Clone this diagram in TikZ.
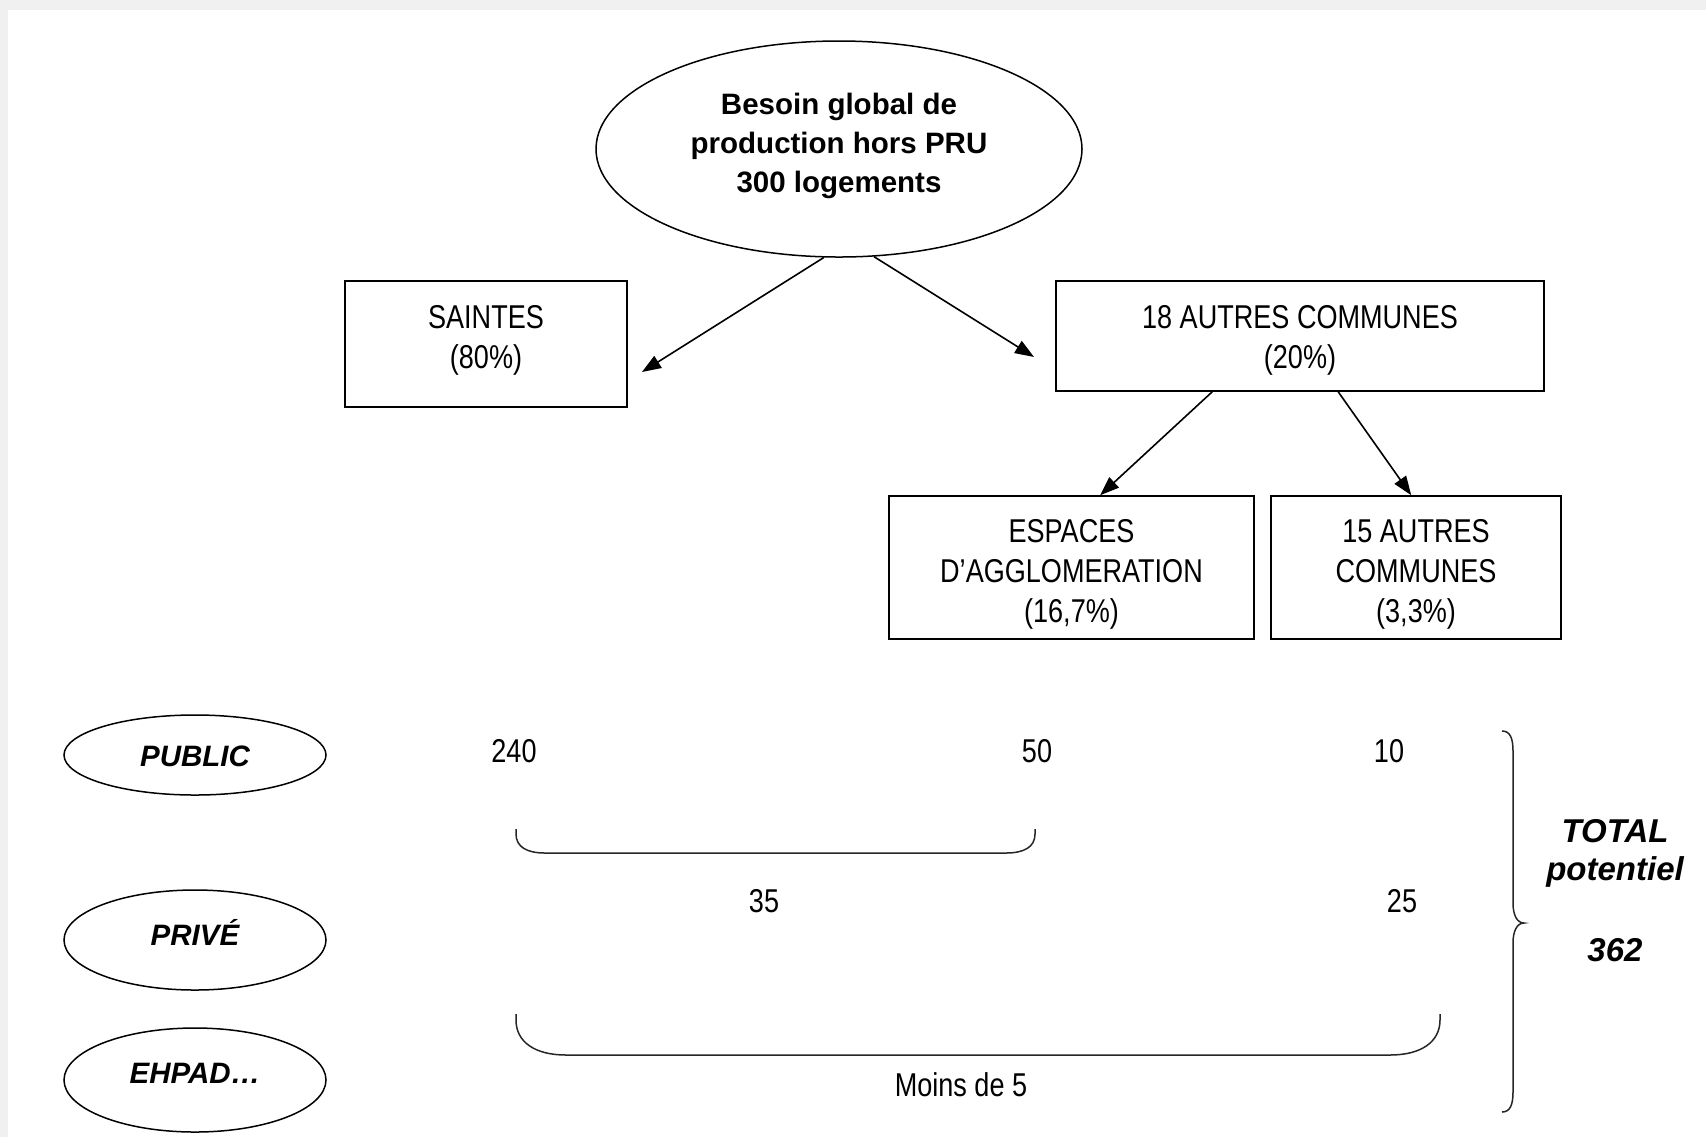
\documentclass[tikz,border=0pt]{standalone}
\usepackage{fontspec}
\setmainfont{Liberation Sans}
\newfontfamily\narrowfont[FakeStretch=0.82]{Liberation Sans}
\usetikzlibrary{shapes.geometric,arrows.meta,calc}

\begin{document}
\begin{tikzpicture}[x=0.5pt,y=-0.5pt,
  box/.style={draw,line width=0.8pt,inner sep=0pt},
  boxtext/.style={inner sep=0pt,align=center,
    font=\narrowfont\fontsize{16.5}{20}\selectfont},
  bigoval/.style={draw,ellipse,line width=0.75pt,inner sep=0pt,
    minimum width=243pt,minimum height=108pt},
  bigtext/.style={inner sep=0pt,align=center,
    font=\bfseries\fontsize{14.75}{19.5}\selectfont},
  sideoval/.style={draw,ellipse,line width=0.75pt,inner sep=0pt,minimum width=131pt},
  sidetext/.style={inner sep=0pt,font=\bfseries\itshape\fontsize{14.75}{18}\selectfont},
  num/.style={inner sep=0pt,font=\narrowfont\fontsize{16.5}{20}\selectfont},
  total/.style={inner sep=0pt,align=center,font=\bfseries\itshape\fontsize{16.5}{19}\selectfont},
  conn/.style={line width=0.8pt,-{Triangle[length=9.5pt,width=7pt]}},
  curl/.style={line width=0.75pt,black!85}]

% page frame: light grey strip along the top and left edges
\useasboundingbox (0,0) rectangle (1706,1137);
\fill[black!6] (0,0) rectangle (1706,1137);
\fill[white] (8,10) rectangle (1706,1137);

% tree of needs
\node[bigoval,label={[bigtext,yshift=1.3pt]center:Besoin global de\\production hors PRU\\300 logements}] (top) at (839,149) {};
\node[box,minimum width=141pt,minimum height=63pt,
  label={[boxtext,yshift=1.8pt]center:SAINTES\\(80\%)}] (saintes) at (486,344) {};
\node[box,minimum width=244pt,minimum height=55pt,
  label={[boxtext,yshift=-2.2pt]center:18 AUTRES COMMUNES\\(20\%)}] (autres) at (1300,336) {};
\node[box,minimum width=182.5pt,minimum height=71.5pt,
  label={[boxtext,yshift=-3.6pt]center:ESPACES\\D’AGGLOMERATION\\(16,7\%)}] (esp) at (1071.5,567.5) {};
\node[box,minimum width=145pt,minimum height=71.5pt,
  label={[boxtext,yshift=-3.6pt]center:15 AUTRES\\COMMUNES\\(3,3\%)}] (quinze) at (1416,567.5) {};

\coordinate (toSaintes) at (642,372);
\coordinate (toAutres) at (1034,357);
\coordinate (fromAutresL) at ($(autres.south west)+(157,0)$);
\coordinate (fromAutresR) at ($(autres.south west)+(283,0)$);
\coordinate (toEsp) at ($(esp.north west)+(212,0)$);
\coordinate (toQuinze) at ($(quinze.north west)+(141,0)$);

\draw[conn] (top.262) -- (toSaintes);
\draw[conn] (top.288) -- (toAutres);
\draw[conn] (fromAutresL) -- (toEsp);
\draw[conn] (fromAutresR) -- (toQuinze);

% categories
\node[sideoval,minimum height=40pt,label={[sidetext,yshift=-0.8pt]center:PUBLIC}] (public) at (195,755) {};
\node[sideoval,minimum height=50pt,label={[sidetext,yshift=3.8pt]center:PRIVÉ}] (prive) at (195,940) {};
\node[sideoval,minimum height=52pt,label={[sidetext,yshift=3.3pt]center:EHPAD…}] (ehpad) at (195,1080) {};

% figures
\node[num] (n240) at (514,751) {240};
\node[num] (n50) at (1037,751) {50};
\node[num] (n10) at (1389,751) {10};
\node[num] (n35) at (764,901) {35};
\node[num] (n25) at (1402,901) {25};
\node[num] (n5) at (961,1085) {Moins de 5};

% grouping brackets
\draw[curl] (516,829) -- (516,834) .. controls (516,847) and (527,853) .. (545,853)
  -- (1006,853) .. controls (1024,853) and (1035,847) .. (1035,834) -- (1035,829);
\draw[curl] (516,1014) -- (516,1020) .. controls (516,1042) and (535,1055) .. (566,1055)
  -- (1390,1055) .. controls (1421,1055) and (1440,1042) .. (1440,1020) -- (1440,1014);

% overall brace
\draw[curl] (1502,731) .. controls (1510,731) and (1513,738) .. (1513,751) -- (1513,903)
  .. controls (1513,915) and (1517,923) .. (1524,923)
  .. controls (1517,923) and (1513,931) .. (1513,943) -- (1513,1092)
  .. controls (1513,1105) and (1510,1112) .. (1502,1112);

\node[total] (tot) at (1615,853) {TOTAL\\potentiel};
\node[total] (tot362) at (1615,950) {362};
\end{tikzpicture}
\end{document}
